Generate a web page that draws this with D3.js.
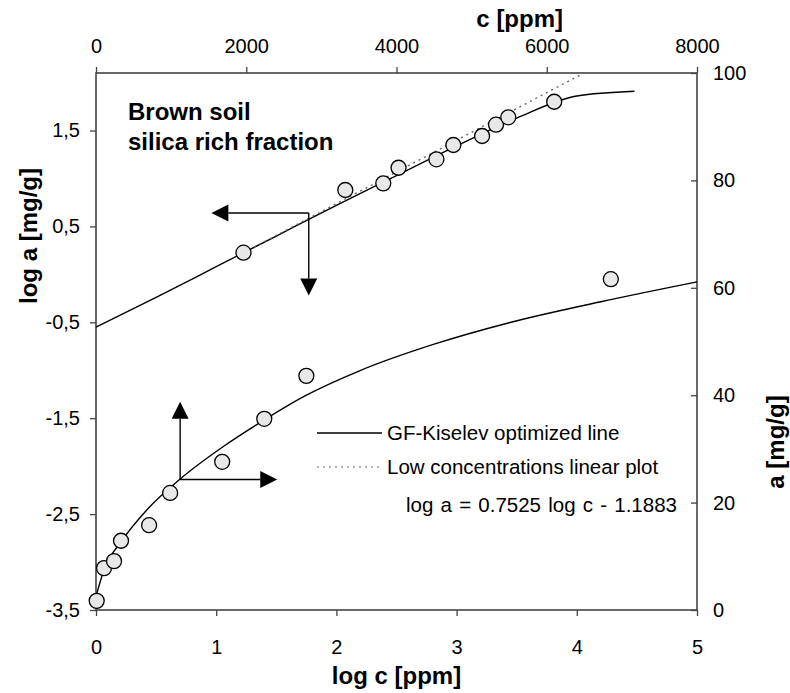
<!DOCTYPE html>
<html>
<head>
<meta charset="utf-8">
<script src="https://cdnjs.cloudflare.com/ajax/libs/d3/7.8.5/d3.min.js"></script>
<style>
  body { margin: 0; background: #fff; }
  svg { font-family: "Liberation Sans", Arial, sans-serif; }
</style>
</head>
<body>
<div id="chart"></div>
<script>
// log-log data (bottom + left axes)
var logC = [1.227, 2.074, 2.390, 2.517, 2.832, 2.973, 3.212, 3.328, 3.430, 3.812];
var logA = [0.226, 0.880, 0.949, 1.112, 1.200, 1.349, 1.443, 1.561, 1.638, 1.800];
var fitLogC = [0, 0.5, 1.0, 1.5, 2.0, 2.5, 3.0, 3.5, 4.0, 4.48];
var fitLogA = [-0.55, -0.24, 0.08, 0.40, 0.72, 1.03, 1.34, 1.63, 1.86, 1.91];
var linLogC = [1.227, 4.06];
var linLogA = [0.226, 2.10];

// linear data (top + right axes)
var cVals = [9, 107, 240, 333, 707, 987, 1680, 2240, 2800, 6853];
var aVals = [1.7, 7.8, 9.1, 12.9, 15.8, 21.8, 27.6, 35.6, 43.6, 61.6];
var fitC = [0, 100, 350, 700, 1120, 1700, 2240, 2800, 3500, 4500, 5500, 6720, 8000];
var fitA = [2.5, 7.2, 13.0, 19.0, 24.4, 30.5, 35.4, 40.0, 44.5, 49.5, 53.5, 57.4, 61.1];

// ticks
var bottomTicks = [0, 1, 2, 3, 4, 5];
var leftTicks = [-3.5, -2.5, -1.5, -0.5, 0.5, 1.5];
var topTicks = [0, 2000, 4000, 6000, 8000];
var rightTicks = [0, 20, 40, 60, 80, 100];

// arrow annotations (in data units)
var arrowLog = {c: 1.77, a: 0.64, cTip: 0.96, aTip: -0.22};
var arrowLin = {c: 1120, a: 24.3, cTip: 2413, aTip: 38.8};

var w = 790, h = 693;
var margin = {left: 96, right: 93, top: 73, bottom: 83};
var iw = w - margin.left - margin.right;
var ih = h - margin.top - margin.bottom;

var svg = d3.select("#chart").append("svg")
    .attr("width", w)
    .attr("height", h);

var g = svg.append("g")
    .attr("transform", "translate(" + margin.left + "," + margin.top + ")");

var xLog = d3.scaleLinear().domain([0, 5]).range([0, iw]);
var yLog = d3.scaleLinear().domain([-3.5, 2.1]).range([ih, 0]);
var xLin = d3.scaleLinear().domain([0, 8000]).range([0, iw]);
var yLin = d3.scaleLinear().domain([0, 100]).range([ih, 0]);

var comma = function(d) { return d3.format(".1f")(d).replace(".", ",").replace("−", "-"); };

var axisColor = "#444";

// axes
var bottomAxis = g.append("g")
    .attr("transform", "translate(0," + ih + ")")
    .call(d3.axisBottom(xLog).tickValues(bottomTicks).tickSize(6).tickPadding(24).tickFormat(d3.format("d")));
var leftAxis = g.append("g")
    .call(d3.axisLeft(yLog).tickValues(leftTicks).tickSize(6).tickPadding(10).tickFormat(comma));
var topAxis = g.append("g")
    .call(d3.axisTop(xLin).tickValues(topTicks).tickSize(6).tickPadding(14).tickFormat(d3.format("d")));
var rightAxis = g.append("g")
    .attr("transform", "translate(" + iw + ",0)")
    .call(d3.axisRight(yLin).tickValues(rightTicks).tickSize(-6).tickPadding(16).tickFormat(d3.format("d")));

[bottomAxis, leftAxis, topAxis, rightAxis].forEach(function(ax) {
    ax.select(".domain").remove();
    ax.selectAll("line").attr("stroke", axisColor).attr("stroke-width", 1.3);
    ax.selectAll("text").attr("font-size", 20).attr("fill", "#000")
        .attr("font-family", "'Liberation Sans', Arial, sans-serif");
});
// plot frame
g.append("rect")
    .attr("width", iw).attr("height", ih)
    .attr("fill", "none").attr("stroke", axisColor).attr("stroke-width", 1.6);

// axis titles
svg.append("text")
    .attr("x", margin.left + iw * 0.705).attr("y", 27)
    .attr("text-anchor", "middle").attr("font-weight", "bold").attr("font-size", 24)
    .text("c [ppm]");
svg.append("text")
    .attr("x", margin.left + iw / 2).attr("y", 684)
    .attr("text-anchor", "middle").attr("font-weight", "bold").attr("font-size", 24)
    .text("log c [ppm]");
svg.append("text")
    .attr("transform", "translate(37," + 236 + ") rotate(-90)")
    .attr("text-anchor", "middle").attr("font-weight", "bold").attr("font-size", 24)
    .text("log a [mg/g]");
svg.append("text")
    .attr("transform", "translate(784," + 442 + ") rotate(-90)")
    .attr("text-anchor", "middle").attr("font-weight", "bold").attr("font-size", 24)
    .text("a [mg/g]");

// sample title
var title = g.append("text")
    .attr("x", 32).attr("y", 47)
    .attr("font-weight", "bold").attr("font-size", 24);
title.append("tspan").attr("x", 32).attr("dy", 0).text("Brown soil");
title.append("tspan").attr("x", 32).attr("dy", 30).text("silica rich fraction");

// lines
var lineLog = d3.line()
    .x(function(d) { return xLog(d[0]); })
    .y(function(d) { return yLog(d[1]); })
    .curve(d3.curveMonotoneX);
var lineLin = d3.line()
    .x(function(d) { return xLin(d[0]); })
    .y(function(d) { return yLin(d[1]); })
    .curve(d3.curveMonotoneX);

g.append("path")
    .datum(fitLogC.map(function(c, i) { return [c, fitLogA[i]]; }))
    .attr("d", lineLog)
    .attr("fill", "none").attr("stroke", "#000").attr("stroke-width", 1.4);

g.append("path")
    .datum(linLogC.map(function(c, i) { return [c, linLogA[i]]; }))
    .attr("d", d3.line().x(function(d) { return xLog(d[0]); }).y(function(d) { return yLog(d[1]); }))
    .attr("fill", "none").attr("stroke", "#666").attr("stroke-width", 1.4)
    .attr("stroke-dasharray", "2,4");

g.append("path")
    .datum(fitC.map(function(c, i) { return [c, fitA[i]]; }))
    .attr("d", lineLin)
    .attr("fill", "none").attr("stroke", "#000").attr("stroke-width", 1.4);

// points
g.selectAll("circle.log")
    .data(logC.map(function(c, i) { return [c, logA[i]]; }))
    .enter().append("circle")
    .attr("class", "log")
    .attr("cx", function(d) { return xLog(d[0]); })
    .attr("cy", function(d) { return yLog(d[1]); })
    .attr("r", 7.5)
    .attr("fill", "#e8e8e8").attr("stroke", "#000").attr("stroke-width", 1.3);

g.selectAll("circle.lin")
    .data(cVals.map(function(c, i) { return [c, aVals[i]]; }))
    .enter().append("circle")
    .attr("class", "lin")
    .attr("cx", function(d) { return xLin(d[0]); })
    .attr("cy", function(d) { return yLin(d[1]); })
    .attr("r", 7.5)
    .attr("fill", "#e8e8e8").attr("stroke", "#000").attr("stroke-width", 1.3);

// arrows
var headLen = 17, headHalf = 8.5;
function arrow(x0, y0, x1, y1) {
    var dx = x1 - x0, dy = y1 - y0;
    var len = Math.sqrt(dx * dx + dy * dy);
    var ux = dx / len, uy = dy / len;
    var bx = x1 - ux * headLen, by = y1 - uy * headLen;
    g.append("line")
        .attr("x1", x0).attr("y1", y0).attr("x2", bx).attr("y2", by)
        .attr("stroke", "#000").attr("stroke-width", 1.4);
    g.append("path")
        .attr("d", "M" + x1 + "," + y1 +
            "L" + (bx - uy * headHalf) + "," + (by + ux * headHalf) +
            "L" + (bx + uy * headHalf) + "," + (by - ux * headHalf) + "Z")
        .attr("fill", "#000");
}
arrow(xLog(arrowLog.c), yLog(arrowLog.a), xLog(arrowLog.cTip), yLog(arrowLog.a));
arrow(xLog(arrowLog.c), yLog(arrowLog.a), xLog(arrowLog.c), yLog(arrowLog.aTip));
arrow(xLin(arrowLin.c), yLin(arrowLin.a), xLin(arrowLin.c), yLin(arrowLin.aTip));
arrow(xLin(arrowLin.c), yLin(arrowLin.a), xLin(arrowLin.cTip), yLin(arrowLin.a));

// legend
var legend = g.append("g").attr("transform", "translate(221,360)");
legend.append("line")
    .attr("x1", 0).attr("x2", 65).attr("y1", 0).attr("y2", 0)
    .attr("stroke", "#000").attr("stroke-width", 1.4);
legend.append("text")
    .attr("x", 70).attr("y", 7).attr("font-size", 20.5)
    .text("GF-Kiselev optimized line");
legend.append("line")
    .attr("x1", 0).attr("x2", 65).attr("y1", 34).attr("y2", 34)
    .attr("stroke", "#666").attr("stroke-width", 1.2).attr("stroke-dasharray", "2,4");
legend.append("text")
    .attr("x", 70).attr("y", 41).attr("font-size", 20.5)
    .text("Low concentrations linear plot");
legend.append("text")
    .attr("x", 89).attr("y", 79).attr("font-size", 20.5)
    .attr("word-spacing", 1.5)
    .text("log a = 0.7525 log c - 1.1883");
</script>
</body>
</html>
